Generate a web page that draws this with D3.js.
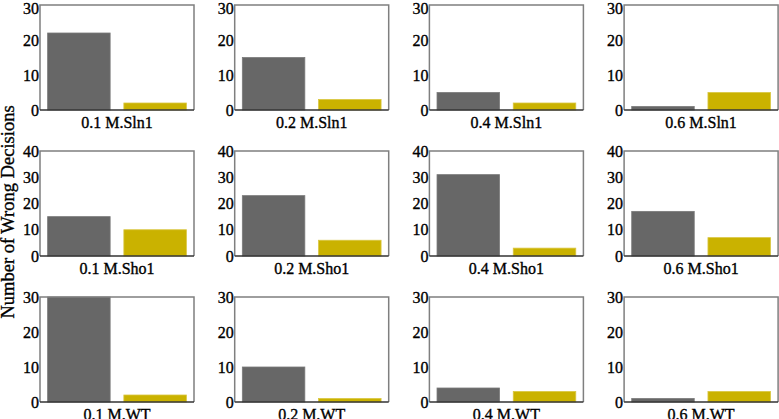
<!DOCTYPE html>
<html>
<head>
<meta charset="utf-8">
<script src="https://cdn.jsdelivr.net/npm/d3@7"></script>
<style>
  html, body { margin: 0; padding: 0; background: #fff; }
  svg { display: block; font-family: "Liberation Serif", "DejaVu Serif", serif; }
  .lbl { stroke: #000; stroke-width: 0.35px; }
</style>
</head>
<body>
<svg id="chart" width="779" height="419"></svg>
<script>
// values
const concentrations = ['0.1', '0.2', '0.4', '0.6'];
const strains = ['M.Sln1', 'M.Sho1', 'M.WT'];
const yMax = [30, 40, 30];
const yTicks = [[0, 10, 20, 30], [0, 10, 20, 30, 40], [0, 10, 20, 30]];
const greyValues = [[22, 15, 5, 1], [15, 23, 31, 17], [30, 10, 4, 1]];
const yellowValues = [[2, 3, 2, 5], [10, 6, 3, 7], [2, 1, 3, 3]];
const yLabel = 'Number of Wrong Decisions';

const svg = d3.select('#chart');
const panelW = 154, panelH = 105;
const colStep = 194.7, rowStep = 146;
const left0 = 40, top0 = 5;

const barColors = ['#676767', '#cab200'];
const barStrokes = ['#7a7a7a', '#d9c640'];

strains.forEach((strain, r) => {
  concentrations.forEach((conc, c) => {
    const top = top0 + r * rowStep;
    const g = svg.append('g')
      .attr('transform', 'translate(' + (left0 + c * colStep) + ',' + top + ')');

    const x = d3.scaleBand()
      .domain(['grey', 'yellow'])
      .range([0, panelW])
      .paddingInner(0.18)
      .paddingOuter(0.1);

    const y = d3.scaleLinear()
      .domain([0, yMax[r]])
      .range([panelH, 0]);

    const vals = [
      {key: 'grey', v: greyValues[r][c]},
      {key: 'yellow', v: yellowValues[r][c]}
    ];

    g.selectAll('.bar')
      .data(vals)
      .enter().append('rect')
      .attr('x', d => x(d.key))
      .attr('y', d => y(d.v))
      .attr('width', x.bandwidth())
      .attr('height', d => panelH - y(d.v))
      .style('fill', (d, i) => barColors[i])
      .style('stroke', (d, i) => barStrokes[i])
      .style('stroke-width', 0.8);

    // frame: top, left, right in grey
    g.append('path')
      .attr('d', 'M0,' + panelH + 'V0H' + panelW + 'V' + panelH)
      .style('fill', 'none')
      .style('stroke', '#7f7f7f')
      .style('stroke-width', 1.5);

    const yAxis = d3.axisLeft(y)
      .tickValues(yTicks[r])
      .tickSize(0)
      .tickPadding(1)
      .tickFormat(d3.format('d'));

    const ax = g.append('g').call(yAxis);
    ax.select('.domain').remove();
    ax.selectAll('text')
      .attr('class', 'lbl')
      .style('font-size', '16px')
      .style('font-family', '"Liberation Serif", serif')
      .attr('fill', '#000')
      // keep the top label inside the picture
      .attr('dy', d => (top + y(d) - 6 < 0) ? '0.5em' : '0.32em');

    // baseline
    g.append('line')
      .attr('x1', 0).attr('x2', panelW)
      .attr('y1', panelH).attr('y2', panelH)
      .style('stroke', '#333')
      .style('stroke-width', 1.5);

    g.append('text')
      .attr('class', 'lbl')
      .attr('x', panelW / 2)
      .attr('y', panelH + 18)
      .attr('text-anchor', 'middle')
      .style('font-size', '16px')
      .text(conc + ' ' + strain);
  });
});

svg.append('text')
  .attr('class', 'lbl')
  .attr('transform', 'translate(14,212) rotate(-90)')
  .attr('text-anchor', 'middle')
  .style('font-size', '18.5px')
  .text(yLabel);
</script>
</body>
</html>
